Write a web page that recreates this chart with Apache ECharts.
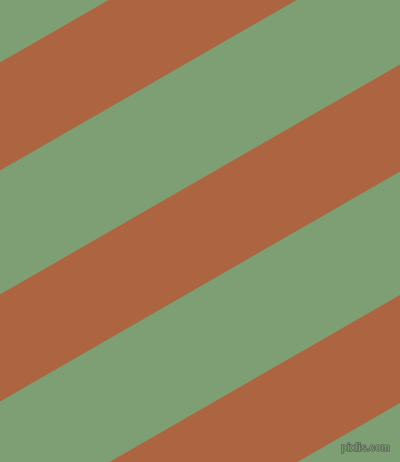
<!DOCTYPE html>
<html>
<head>
<meta charset="utf-8">
<style>
  html, body { margin: 0; padding: 0; }
  #main { width: 400px; height: 462px; }
</style>
<script src="https://cdnjs.cloudflare.com/ajax/libs/echarts/6.0.0/echarts.min.js"></script>
</head>
<body>
<div id="main"></div>
<script>
// stripe edges: y where each edge meets x = 0 and x = 400
const topLeft = [62.5, 294.5, 525];
const topRight = [-167.5, 64.5, 295];
const bottomLeft = [170.5, 401.5, 633];
const bottomRight = [-59.5, 171.5, 403];

const stripeData = topLeft.map((v, i) => [v, topRight[i], bottomLeft[i], bottomRight[i]]);

const chart = echarts.init(document.getElementById('main'));

const option = {
    backgroundColor: '#7e9e73',
    animation: false,
    grid: { left: 0, right: 0, top: 0, bottom: 0 },
    xAxis: { type: 'value', min: 0, max: 400, show: false },
    yAxis: { type: 'value', min: 0, max: 462, inverse: true, show: false },
    title: {
        text: 'pixlis.com',
        right: 4,
        bottom: 3,
        textStyle: {
            fontFamily: 'Liberation Sans',
            fontSize: 10,
            fontWeight: 'bold',
            color: '#7e9e73',
            textBorderColor: '#4a4a4a',
            textBorderWidth: 1
        }
    },
    series: [
        {
            type: 'custom',
            data: stripeData,
            renderItem: function (params, api) {
                const pts = [
                    api.coord([0, api.value(0)]),
                    api.coord([400, api.value(1)]),
                    api.coord([400, api.value(3)]),
                    api.coord([0, api.value(2)])
                ];
                return {
                    type: 'polygon',
                    shape: { points: pts },
                    style: { fill: '#ad6440' }
                };
            }
        }
    ]
};

chart.setOption(option);
</script>
</body>
</html>
